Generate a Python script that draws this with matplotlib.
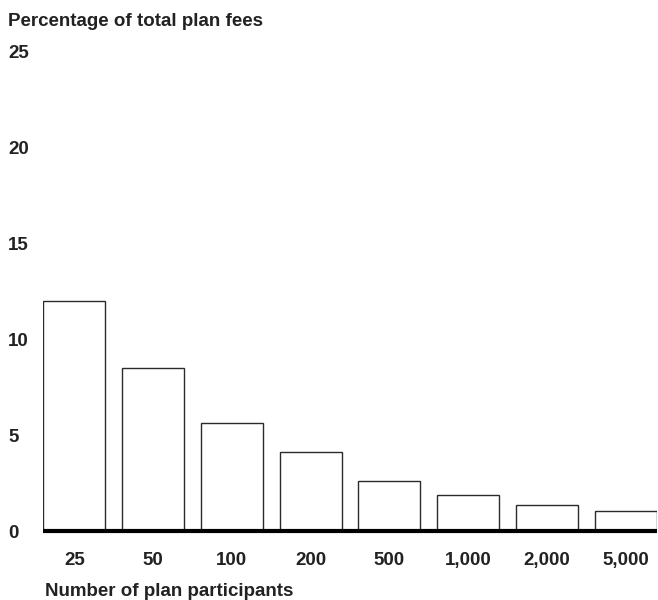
import matplotlib.pyplot as plt

plt.rcParams['font.family'] = ['Liberation Sans', 'DejaVu Sans']
plt.rcParams['font.weight'] = 'bold'

# datos
participants = ["25", "50", "100", "200", "500", "1,000", "2,000", "5,000"]
pct_fees = [12.0, 8.5, 5.6, 4.1, 2.6, 1.9, 1.35, 1.05]
y_ticks = [0, 5, 10, 15, 20, 25]

W, H = 658, 600
fs = 13.5
fig = plt.figure(figsize=(W / 100, H / 100), dpi=100)
ax = fig.add_axes([43.3 / W, 1 - 531 / H, (656.7 - 43.3) / W, 480 / H])

x = range(len(participants))
ax.bar(x, pct_fees, width=0.787, color="white", edgecolor="#2b2b2b", linewidth=1.0, zorder=2)
ax.axhline(0, color="black", linewidth=3, zorder=3, clip_on=False, solid_capstyle="butt")

ax.set_xlim(-0.3935, len(participants) - 1 + 0.3935)
ax.set_ylim(0, 25)

ax.set_xticks(list(x))
ax.set_xticklabels(participants, fontsize=fs, fontweight="bold", color="#222222")
ax.set_yticks(y_ticks)
ax.set_yticklabels([str(v) for v in y_ticks], fontsize=fs, fontweight="bold",
                   color="#222222", ha="left")
ax.tick_params(axis="x", length=0, pad=15)
ax.tick_params(axis="y", length=0, pad=25.4)

for s in ax.spines.values():
    s.set_visible(False)

fig.text(8 / W, 1 - 22 / H, "Percentage of total plan fees", fontsize=fs,
         fontweight="bold", color="#222222", va="center", ha="left")
fig.text(45 / W, 1 - 592 / H, "Number of plan participants", fontsize=fs,
         fontweight="bold", color="#222222", va="center", ha="left")

plt.savefig("out.png", dpi=100)
